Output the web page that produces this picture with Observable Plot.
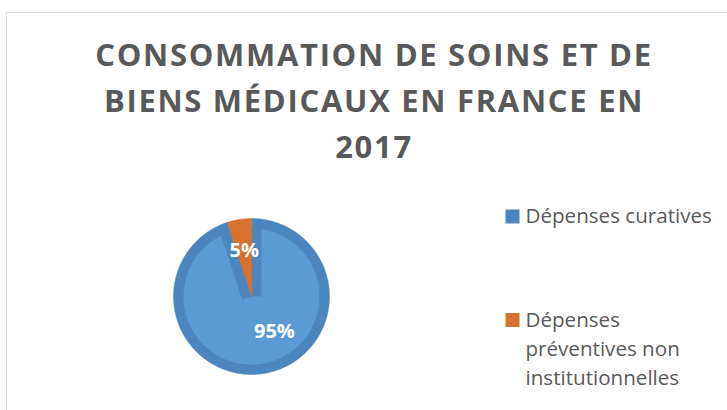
<!DOCTYPE html>
<html><head><meta charset="utf-8">
<script src="https://cdn.jsdelivr.net/npm/d3@7"></script>
<script src="https://cdn.jsdelivr.net/npm/@observablehq/plot@0.6"></script>
<style>
html,body{margin:0;padding:0;background:#fff;}
#wrap{position:relative;width:727px;height:410px;overflow:hidden;}
#border{position:absolute;left:6px;top:12px;width:900px;height:600px;border-left:1.5px solid #d9d9d9;border-top:1.5px solid #d9d9d9;box-sizing:border-box;}
#chart{position:absolute;left:0;top:0;}
</style></head><body>
<div id="wrap"><div id="border"></div><div id="chart"></div></div>
<script>
const titleLines = ["CONSOMMATION DE SOINS ET DE", "BIENS MÉDICAUX EN FRANCE EN", "2017"];
const categories = ["Dépenses curatives", "Dépenses préventives non institutionnelles"];
const legendLabels = ["Dépenses curatives", "Dépenses\npréventives non\ninstitutionnelles"];
const values = [95, 5];
const valueLabels = ["95%", "5%"];
const colors = ["#4c86be", "#d8712e"];
const highlight = "#5b9bd5";

const R = 78;            // pie radius in px
const band = 10;         // shaded rim width in px
const rin = (R - band) / R;

const slices = d3.pie().sort(null).value(d => d)(values)
  .map((s, i) => ({cat: categories[i], label: valueLabels[i], value: values[i], a0: s.startAngle, a1: s.endAngle}));

function wedge(s, rho) {
  const pts = [{cat: s.cat, x: 0, y: 0}];
  const n = Math.max(2, Math.ceil((s.a1 - s.a0) / 0.01));
  for (let k = 0; k <= n; k++) {
    const a = s.a0 + (s.a1 - s.a0) * k / n;
    pts.push({cat: s.cat, x: rho * Math.sin(a), y: rho * Math.cos(a)});
  }
  return pts;
}

const big = slices.filter(s => s.value >= 50);
const small = slices.filter(s => s.value < 50);
const fullBig = big.flatMap(s => wedge(s, 1));
const innerBig = big.flatMap(s => wedge(s, rin));
const fullSmall = small.flatMap(s => wedge(s, 1));
const edges = big.flatMap(s => [s.a0, s.a1].map(a => ({cat: s.cat, x2: rin * Math.sin(a), y2: rin * Math.cos(a)})));

const labelPos = (s, rho) => {
  const m = (s.a0 + s.a1) / 2;
  return {...s, x: rho * Math.sin(m), y: rho * Math.cos(m)};
};

const legendMarks = categories.flatMap((c, i) => [
  Plot.dot([c], {frameAnchor: "top-left", dx: 512, dy: 216 + i * 103.5, symbol: "square", r: 7.9, fill: d => d, stroke: null}),
  Plot.text([legendLabels[i]], {frameAnchor: "top-left", dx: 525, dy: 202 + i * 103.5, text: d => d, textAnchor: "start", lineAnchor: "top", fontSize: 20.6, lineHeight: 29 / 20.6, fill: "#595959"})
]);

const chart = Plot.plot({
  width: 727, height: 410,
  margin: 0,
  style: {fontFamily: "'Open Sans', sans-serif", background: "transparent", overflow: "visible"},
  x: {domain: [-1, 1], range: [251 - R, 251 + R], axis: null},
  y: {domain: [-1, 1], range: [296 + R, 296 - R], axis: null},
  color: {domain: categories, range: colors},
  marks: [
    Plot.text([titleLines.join("\n")], {frameAnchor: "top", dx: 10, dy: 33, text: d => d, lineAnchor: "top", fontSize: 31, lineHeight: 46 / 31, fontWeight: "bold", fill: "#595959"}),
    Plot.line(fullBig, {x: "x", y: "y", z: "cat", fill: "cat", stroke: "cat", strokeWidth: 0.5, curve: "linear-closed"}),
    Plot.line(innerBig, {x: "x", y: "y", z: "cat", fill: highlight, stroke: "none", curve: "linear-closed"}),
    Plot.link(edges, {x1: 0, y1: 0, x2: "x2", y2: "y2", stroke: "cat", strokeWidth: band * 2, strokeLinecap: "butt"}),
    Plot.line(fullSmall, {x: "x", y: "y", z: "cat", fill: "cat", stroke: "cat", strokeWidth: 0.5, curve: "linear-closed"}),
    Plot.text(big.map(s => labelPos(s, 0.45)), {x: "x", y: "y", text: "label", textAnchor: "start", dx: -3, fill: "white", fontWeight: "bold", fontSize: 20}),
    Plot.text(small.map(s => labelPos(s, 0.6)), {x: "x", y: "y", text: "label", textAnchor: "middle", fill: "white", fontWeight: "bold", fontSize: 20}),
    ...legendMarks
  ]
});
d3.select(chart).selectAll("text")
  .filter(function() { return this.textContent.startsWith(titleLines[0]); })
  .style("letter-spacing", "1.7px");
document.getElementById("chart").appendChild(chart);
</script>
</body></html>
